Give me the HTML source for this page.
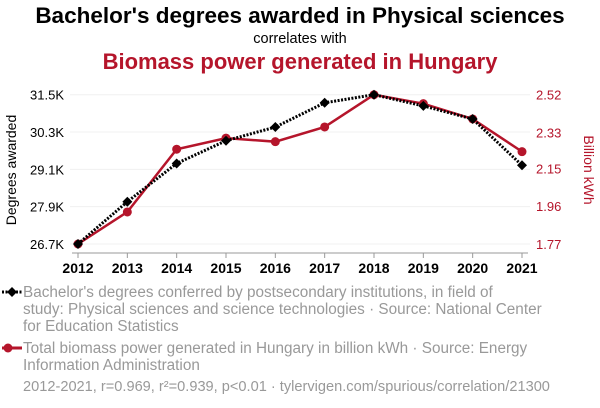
<!DOCTYPE html>
<html><head><meta charset="utf-8"><style>
body{margin:0;background:#fff;font-family:"Liberation Sans",sans-serif;}
svg{display:block}
</style></head><body>
<svg width="600" height="408" viewBox="0 0 600 408">
<text x="300" y="23" text-anchor="middle" font-size="22.5" font-weight="bold" fill="#000">Bachelor's degrees awarded in Physical sciences</text>
<text x="300" y="43" text-anchor="middle" font-size="14.5" fill="#000">correlates with</text>
<text x="300" y="69" text-anchor="middle" font-size="22" font-weight="bold" fill="#b5152b">Biomass power generated in Hungary</text>
<g id="grid"></g>
<g id="axes"></g>
<g id="series"></g>
<text transform="translate(16,170) rotate(-90)" text-anchor="middle" font-size="14" fill="#000">Degrees awarded</text>
<text transform="translate(584,170) rotate(90)" text-anchor="middle" font-size="14" fill="#b5152b">Billion kWh</text>
<g>
<line x1="2" y1="292" x2="22" y2="292" stroke="#000" stroke-width="3" stroke-dasharray="2,1.5"/>
<path d="M7,292 l5,-5 l5,5 l-5,5z" fill="#000"/>
<text font-size="15.3" fill="#999"><tspan x="23" y="297">Bachelor's degrees conferred by postsecondary institutions, in field of</tspan><tspan x="23" y="314">study: Physical sciences and science technologies · Source: National Center</tspan><tspan x="23" y="331">for Education Statistics</tspan></text>
</g>
<g>
<line x1="2" y1="348" x2="22" y2="348" stroke="#b5152b" stroke-width="3"/>
<circle cx="8" cy="348" r="4.5" fill="#b5152b"/>
<text font-size="15.3" fill="#999"><tspan x="23" y="353">Total biomass power generated in Hungary in billion kWh · Source: Energy</tspan><tspan x="23" y="370">Information Administration</tspan></text>
</g>
<text x="23" y="391" font-size="14.6" fill="#999">2012-2021, r=0.969, r²=0.939, p&lt;0.01 · tylervigen.com/spurious/correlation/21300</text>
</svg>
<script>
const years=[2012,2013,2014,2015,2016,2017,2018,2019,2020,2021];
const degrees=[26.7,28.06,29.29,30.02,30.46,31.24,31.5,31.14,30.72,29.23];
const biomass=[1.77,1.931,2.246,2.302,2.284,2.358,2.52,2.475,2.398,2.234];
const leftTicks=[26.7,27.9,29.1,30.3,31.5];
const leftLabels=["26.7K","27.9K","29.1K","30.3K","31.5K"];
const rightTicks=[1.77,1.96,2.15,2.33,2.52];
const NS="http://www.w3.org/2000/svg";
const x0=78,x1=522,yb=244,yt=94.7;
const xs=y=>x0+(y-years[0])/(years[years.length-1]-years[0])*(x1-x0);
const yl=v=>yb-(v-26.7)/(31.5-26.7)*(yb-yt);
const yr=v=>yb-(v-1.77)/(2.52-1.77)*(yb-yt);
function mk(t,a,p){const e=document.createElementNS(NS,t);for(const k in a)e.setAttribute(k,a[k]);p.appendChild(e);return e;}
const grid=document.getElementById('grid'),axes=document.getElementById('axes'),ser=document.getElementById('series');
leftTicks.forEach((v,i)=>{
 const g=mk('line',{x1:70,x2:530,y1:yl(v),y2:yl(v),stroke:'#f0f0f0','stroke-width':1},grid);
 
 
 const t=mk('text',{x:64,y:yl(v)+5,'text-anchor':'end','font-size':13,fill:'#000'},axes);t.textContent=leftLabels[i];
 
 
});
rightTicks.forEach(v=>{
 const t=mk('text',{x:536,y:yr(v)+5,'font-size':13,fill:'#b5152b'},axes);t.textContent=v.toFixed(2);
 
 
});
const xa=mk('line',{x1:72,x2:528,y1:253,y2:253,stroke:'#999','stroke-width':1},axes);


years.forEach(y=>{
 mk('line',{x1:xs(y),x2:xs(y),y1:253,y2:258,stroke:'#999'},axes);
 const t=mk('text',{x:xs(y),y:273,'text-anchor':'middle','font-size':14,'font-weight':'bold',fill:'#000'},axes);t.textContent=y;
 
 
});
const rp=mk('polyline',{points:years.map((y,i)=>xs(y)+','+yr(biomass[i])).join(' '),fill:'none',stroke:'#b5152b','stroke-width':2.5},ser);


years.forEach((y,i)=>{const c=mk('circle',{cx:xs(y),cy:yr(biomass[i]),r:4.5,fill:'#b5152b'},ser);
 
 });
const bp=mk('polyline',{points:years.map((y,i)=>xs(y)+','+yl(degrees[i])).join(' '),fill:'none',stroke:'#000','stroke-width':3,'stroke-dasharray':'2,1.5'},ser);


years.forEach((y,i)=>{const cx=xs(y),cy=yl(degrees[i]);
 const d=mk('path',{d:`M${cx-5},${cy} L${cx},${cy-5} L${cx+5},${cy} L${cx},${cy+5}Z`,fill:'#000'},ser);
 
 });
</script>
</body></html>
